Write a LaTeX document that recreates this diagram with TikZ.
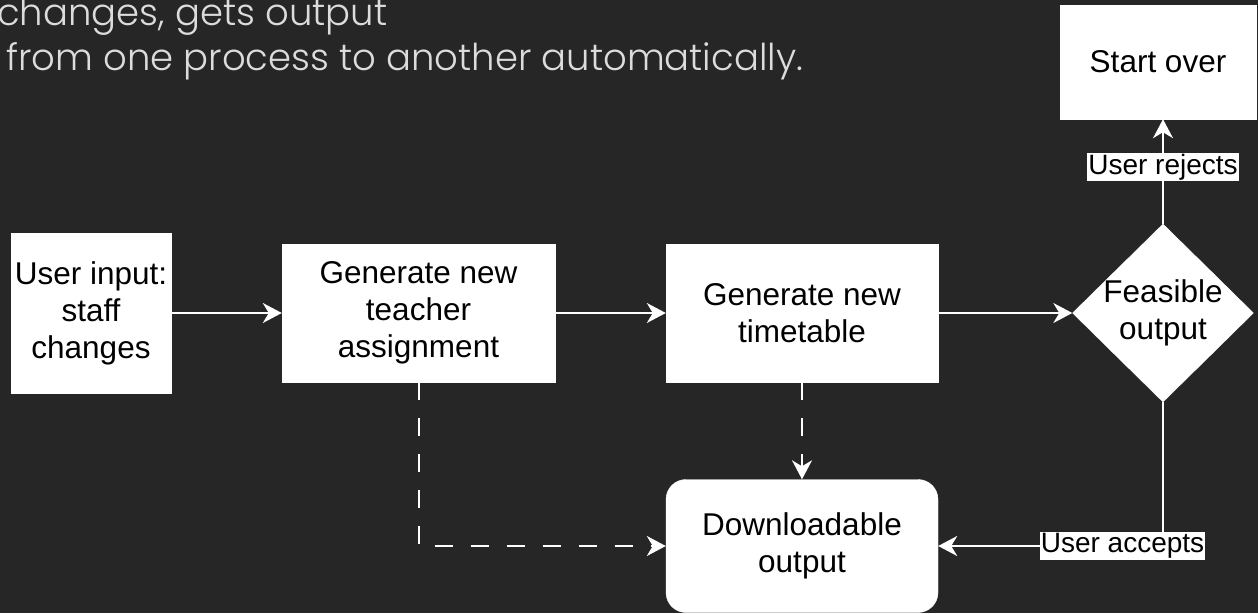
\documentclass[tikz,border=0pt]{standalone}
\usepackage{fontspec}
\setmainfont{Liberation Sans}
\newfontfamily\topfont{Poppins Light}
\usetikzlibrary{arrows.meta,shapes.geometric}
\definecolor{bg}{HTML}{262626}
\definecolor{toptext}{HTML}{DCDCDC}
\begin{document}
\begin{tikzpicture}[x=1pt,y=-1pt,
  box/.style={draw=white, fill=white, text=black, align=center,
    font=\fontsize{31.5pt}{37pt}\selectfont, inner sep=0pt},
  conn/.style={draw=white, line width=2pt,
    -{Stealth[length=19pt,width=20pt,inset=6pt]}},
  dconn/.style={conn, dash pattern=on 18pt off 18pt},
  lbl/.style={fill=white, text=black, font=\fontsize{28pt}{32pt}\selectfont,
    inner sep=1pt, minimum height=26pt},
  toptxt/.style={anchor=base west, text=toptext, inner sep=0pt,
    font=\topfont\fontsize{37pt}{44pt}\selectfont}]
\fill[bg] (0,0) rectangle (1258,613);
\useasboundingbox (0,0) rectangle (1258,613);

% top text
\node[toptxt] (l1) at (-3,25) {changes, gets output};
\node[toptxt] (l2) at (6,70) {from one process to another automatically.};

% nodes
\node[box, minimum width=160pt, minimum height=160pt] (input) at (91,313) {User input:\\staff\\changes};
\node[box, minimum width=273pt, minimum height=138pt] (teacher) at (418.5,313) {Generate new\\teacher\\assignment};
\node[box, minimum width=272pt, minimum height=138pt] (timetable) at (802,313) {Generate new\\timetable};
\node[box, rounded corners=20pt, minimum width=272pt, minimum height=133pt] (download) at (802,546) {Downloadable\\output};
\node[box, diamond, minimum width=181pt, minimum height=178pt] (feas) at (1163,313) {};
\node[align=center, text=black, font=\fontsize{31.5pt}{37pt}\selectfont] (feastext) at (feas) {Feasible\\output};
\node[box, minimum width=196pt, minimum height=114pt] (start) at (1158,62) {Start over};

% connectors
\draw[conn] (input) -- (teacher);
\draw[conn] (teacher) -- (timetable);
\draw[conn] (timetable) -- (feas);
\draw[conn] (feas.north) -- node[lbl, pos=0.54] {User rejects} (feas.north |- start.south);
\draw[conn] (feas.south) |- node[lbl, pos=0.59] {User accepts} (download.east);
\draw[dconn] (teacher.south) |- (download.west);
\draw[dconn] (timetable.south) -- (download.north);
\end{tikzpicture}
\end{document}
